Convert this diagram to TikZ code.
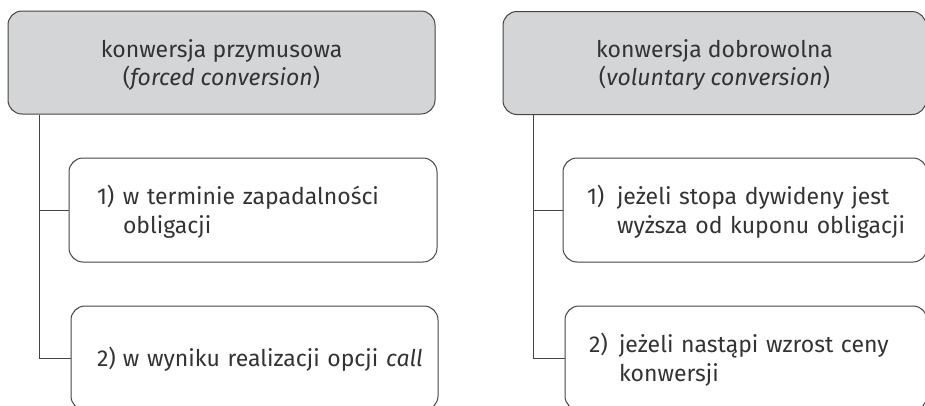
\documentclass[tikz,border=0pt]{standalone}
\usepackage{fontspec}
\setmainfont{Fira Sans}
\definecolor{txt}{HTML}{333333}
\definecolor{ln}{HTML}{444444}
\definecolor{hd}{HTML}{D4D5D6}
\newcommand{\ind}[1]{\hspace*{#1pt}}
\newcommand{\topst}{\rule{0pt}{24pt}}
\newcommand{\botst}{\rule[-7pt]{0pt}{7pt}}
\begin{document}
\begin{tikzpicture}[x=1pt,y=-1pt,
  box/.style={draw=ln,line width=1pt,rounded corners=14pt,rectangle,inner sep=0pt,text=txt},
  head/.style={box,fill=hd,align=center,font=\fontsize{23}{28}\selectfont},
  item/.style={box,fill=white,align=left,font=\fontsize{23}{29}\selectfont},
  conn/.style={draw=ln,line width=1pt}]
\useasboundingbox (0,0) rectangle (925,405);
% left column
\node[head,minimum width=427,minimum height=103] (lh) at (221.5,62.5) {\topst konwersja przymusowa\\(\textit{forced conversion})\botst};
\node[item,minimum width=368,minimum height=104,text width=368] (l1) at (253,210) {\topst\ind{28}\makebox[26pt][l]{1)}w terminie zapadalności\\\ind{54}obligacji\botst};
\node[item,minimum width=367,minimum height=104,text width=367] (l2) at (254.5,358) {\topst\ind{26}\makebox[26pt][l]{2)}w wyniku realizacji opcji \textit{call}\botst};
% right column
\node[head,minimum width=423,minimum height=103] (rh) at (714.5,63) {\topst konwersja dobrowolna\\(\textit{voluntary conversion})\botst};
\node[item,minimum width=364,minimum height=104,text width=364] (r1) at (745,210) {\topst\ind{24}\makebox[30pt][l]{1)}jeżeli stopa dywideny jest\\\ind{54}wyższa od kuponu obligacji\botst};
\node[item,minimum width=362,minimum height=104,text width=362] (r2) at (746,358) {\topst\ind{24}\makebox[30pt][l]{2)}jeżeli nastąpi wzrost ceny\\\ind{54}konwersji\botst};
% connectors
\coordinate (lt) at (39,0);
\draw[conn] (lh.south -| lt) |- (l2.west);
\draw[conn] (l1.west -| lt) -- (l1.west);
\coordinate (rt) at (533,0);
\draw[conn] (rh.south -| rt) |- (r2.west);
\draw[conn] (r1.west -| rt) -- (r1.west);
\end{tikzpicture}
\end{document}
